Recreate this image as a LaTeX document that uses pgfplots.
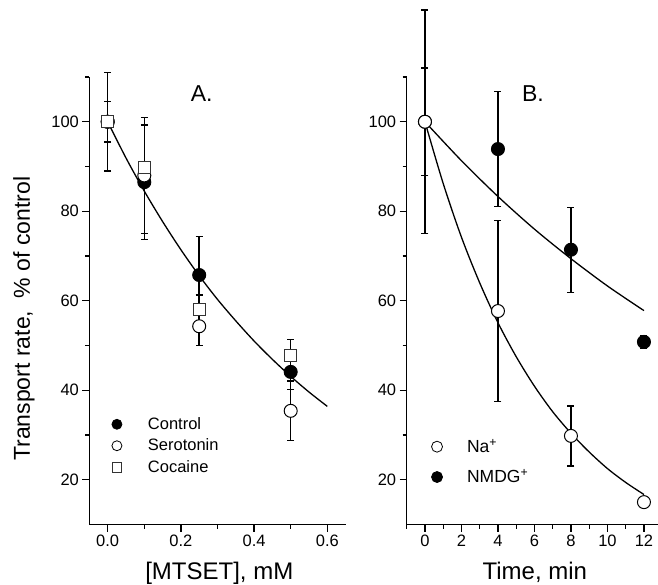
\documentclass[border=0pt]{standalone}
\usepackage{fontspec}
\setmainfont{Liberation Sans}
\usepackage{pgfplots}
\usepackage{pgfplotstable}
\pgfplotsset{compat=1.18}
\newcommand{\tk}{\fontsize{16.5}{19}\selectfont}

\pgfplotstableread{
x y e
0 100 11
0.1 86.5 12.8
0.25 65.75 8.6
0.5 44.1 4.0
}\ctrl
\pgfplotstableread{
x y e
0 100 4.5
0.1 88 13
0.25 54.3 4.3
0.5 35.4 6.65
}\sero
\pgfplotstableread{
x y e
0 100 0
0.1 89.8 0
0.25 58.1 3.2
0.5 47.75 3.65
}\coca
\pgfplotstableread{
x y e
0 100 25
4 57.7 20.25
8 29.8 6.7
12 15 0
}\natab
\pgfplotstableread{
x y e
0 100 12
4 93.9 12.9
8 71.4 9.5
12 50.8 1.5
}\nmdg

\pgfplotsset{
 panel/.style={
  scale only axis, height=447.5pt,
  axis x line*=bottom, axis y line*=left,
  axis line style={line width=1.5pt, black},
  tick align=outside,
  major tick length=7pt, minor tick length=4pt,
  major tick style={line width=1.3pt, black},
  minor tick style={line width=1.3pt, black},
  ymin=10, ymax=110, ytick={20,40,60,80,100}, minor ytick={30,50,70,90,110},
  yticklabels={\tk 20,\tk 40,\tk 60,\tk 80,\tk 100},
  clip=false,
  legend cell align=left,
 },
 ebar/.style={error bars/.cd, y dir=both, y explicit,
   error bar style={line width=1.5pt, black},
   error mark options={rotate=90, mark size=3.5pt, line width=1.3pt, black},
   /pgfplots/.cd},
 fitcurve/.style={black, line width=1.3pt, smooth, no marks},
}

\begin{document}
\begin{tikzpicture}
\useasboundingbox (0pt,0pt) rectangle (658pt,-585pt);
% Panel A
\begin{axis}[panel, at={(89.4pt,-524.5pt)}, anchor=south west, width=256.2pt,
  xmin=-0.05, xmax=0.65, xtick={0,0.2,0.4,0.6}, minor xtick={0.1,0.3,0.5},
  xticklabels={\tk 0.0,\tk 0.2,\tk 0.4,\tk 0.6},
  xlabel={[MTSET], mM},
  ylabel={Transport rate,\ \ \% of control},
  xlabel style={font=\fontsize{24}{28}\selectfont, at={(axis description cs:0.507,-0.122)}, anchor=base},
  ylabel style={font=\fontsize{23}{27}\selectfont, at={(axis description cs:-0.2326,0.46)}, anchor=base},
  legend style={draw=none, fill=none, at={(axis cs:0.011,27.6)}, anchor=west, inner sep=0pt,
    column sep=25pt, row sep=6pt, font=\fontsize{16.5}{19}\selectfont, nodes={inner sep=1pt}},
]
\addplot[fitcurve, forget plot] coordinates {(0,100) (0.05,91.9) (0.1,84.5) (0.15,77.7) (0.2,71.4) (0.25,65.6) (0.3,60.3) (0.35,55.5) (0.4,51.0) (0.45,46.9) (0.5,43.1) (0.55,39.6) (0.6,36.4)};
\addplot[forget plot, only marks, mark=*, mark size=6.5pt, mark options={fill=black, draw=black, line width=1pt}, ebar] table[x=x, y=y, y error=e] {\ctrl};
\addplot[forget plot, only marks, mark=*, mark size=6.5pt, mark options={fill=white, draw=black, line width=1pt}, ebar] table[x=x, y=y, y error=e] {\sero};
\addplot[forget plot, only marks, mark=square*, mark size=6pt, mark options={fill=white, draw=black!80, line width=1pt}, ebar] table[x=x, y=y, y error=e] {\coca};
\addlegendimage{only marks, mark=*, mark size=5pt, mark options={fill=black, draw=black, line width=0.8pt}}
\addlegendentry{Control}
\addlegendimage{only marks, mark=*, mark size=5pt, mark options={fill=white, draw=black, line width=0.8pt}}
\addlegendentry{Serotonin}
\addlegendimage{only marks, mark=square*, mark size=4.8pt, mark options={fill=white, draw=black!80, line width=0.8pt}}
\addlegendentry{Cocaine}
\node[font=\fontsize{23}{27}\selectfont] at (axis cs:0.257,106.4) {A.};
\end{axis}
% Panel B
\begin{axis}[panel, at={(406.7pt,-524.5pt)}, anchor=south west, width=251.3pt,
  xmin=-1, xmax=12.77, xtick={0,2,4,6,8,10,12}, minor xtick={-1,1,3,5,7,9,11},
  xticklabels={\tk 0,\tk 2,\tk 4,\tk 6,\tk 8,\tk 10,\tk 12},
  xlabel={Time, min},
  xlabel style={font=\fontsize{24}{28}\selectfont, at={(axis description cs:0.51,-0.122)}, anchor=base},
  legend style={draw=none, fill=none, at={(axis cs:0.35,24.0)}, anchor=west, inner sep=0pt,
    column sep=23.5pt, row sep=13.5pt, font=\fontsize{17.5}{21}\selectfont, nodes={inner sep=1pt}},
]
\addplot[fitcurve, forget plot] coordinates {(0,100) (1,86.2) (2,74.2) (3,64.0) (4,55.1) (5,47.5) (6,40.9) (7,35.2) (8,30.4) (9,26.2) (10,22.5) (11,19.4) (12,16.7)};
\addplot[fitcurve, forget plot] coordinates {(0,100) (2,91.3) (4,83.3) (6,76.0) (8,69.4) (10,63.3) (12,57.8)};
\addplot[forget plot, only marks, mark=*, mark size=6.5pt, mark options={fill=black, draw=black, line width=1pt}, ebar] table[x=x, y=y, y error=e] {\nmdg};
\addplot[forget plot, only marks, mark=*, mark size=6.5pt, mark options={fill=white, draw=black, line width=1pt}, ebar] table[x=x, y=y, y error=e] {\natab};
\addlegendimage{only marks, mark=*, mark size=5.5pt, mark options={fill=white, draw=black, line width=0.8pt}}
\addlegendentry{Na\textsuperscript{+}}
\addlegendimage{only marks, mark=*, mark size=5.5pt, mark options={fill=black, draw=black, line width=0.8pt}}
\addlegendentry{NMDG\textsuperscript{+}}
\node[font=\fontsize{23}{27}\selectfont] at (axis cs:5.92,106.2) {B.};
\end{axis}
\end{tikzpicture}
\end{document}
